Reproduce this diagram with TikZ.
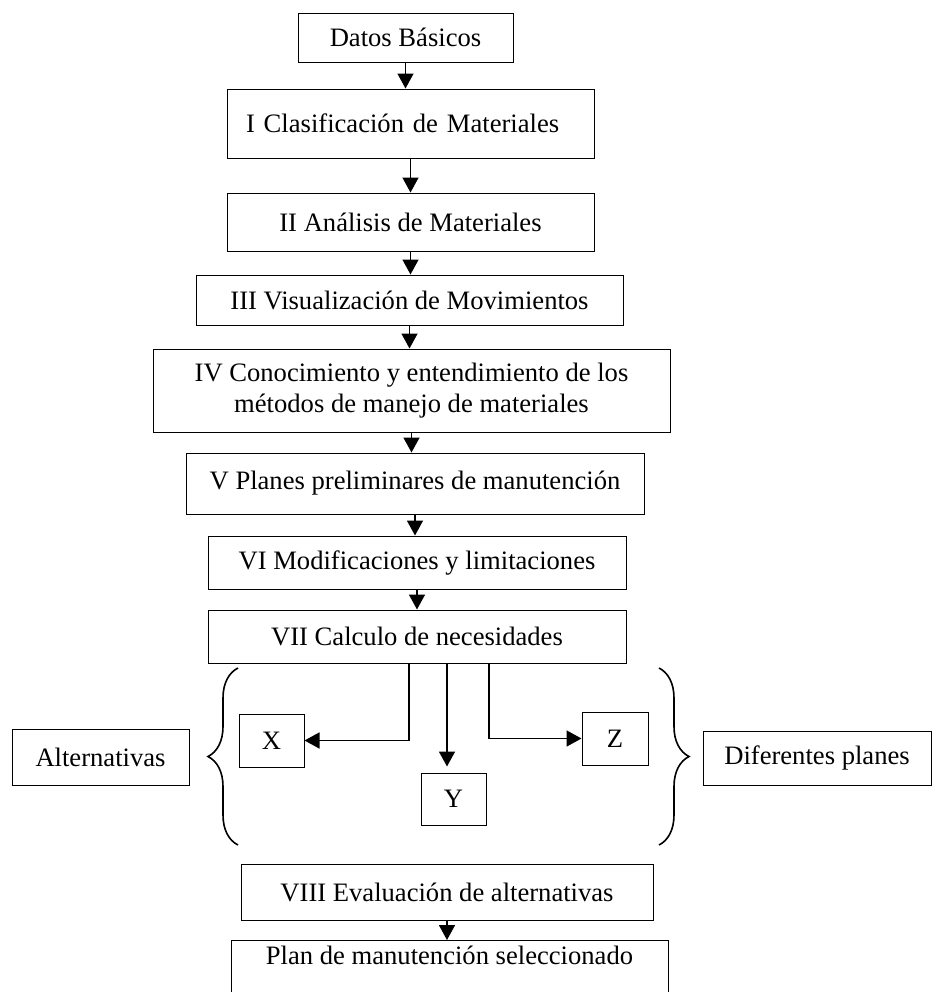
\documentclass[tikz,border=0pt]{standalone}
\usepackage{fontspec}
\setmainfont{Liberation Serif}
\usetikzlibrary{arrows.meta,decorations.pathreplacing}

\tikzset{
  box/.style={draw, line width=0.5pt, align=center, inner sep=2pt, font=\fontsize{13.3}{15.5}\selectfont},
  flecha/.style={-{Triangle[length=7.5pt,width=8pt]}, line width=0.8pt},
  llave/.style={decorate, decoration={brace, amplitude=15pt}, line width=0.8pt}
}

\begin{document}
\begin{tikzpicture}[x=0.5pt,y=0.5pt,yscale=-1,xscale=1]
\useasboundingbox (0,0) rectangle (932,992);
\clip (0,0) rectangle (932,992);

% Text Node
\node [box, minimum width=107.5pt, minimum height=24.5pt] (datos) at (405.5,37.5) {Datos Básicos};
% Text Node
\node [box, minimum width=183.5pt, minimum height=34.5pt, text width=164.5pt, inner xsep=9.5pt, align=left] (clasif) at (410.5,123.5) {I Clasificación de Materiales};
% Text Node
\node [box, minimum width=183.5pt, minimum height=29pt] (anal) at (410.5,222) {II Análisis de Materiales};
% Text Node
\node [box, minimum width=213.5pt, minimum height=25pt] (visual) at (409.5,300) {III Visualización de Movimientos};
% Text Node
\node [box, minimum width=258.5pt, minimum height=41.5pt] (metodos) at (411.5,390.5) {IV Conocimiento y entendimiento de los\\ métodos de manejo de materiales};
% Text Node
\node [box, minimum width=229pt, minimum height=30.5pt] (prelim) at (415,483.5) {V Planes preliminares de manutención};
% Text Node
\node [box, minimum width=209pt, minimum height=26.5pt] (modif) at (417,562.5) {VI Modificaciones y limitaciones};
% Text Node
\node [box, minimum width=209pt, minimum height=26.5pt] (calc) at (417,636.5) {VII Calculo de necesidades};
% Text Node
\node [box, minimum width=32.5pt, minimum height=26.5pt] (xbox) at (271.5,740.5) {X};
% Text Node
\node [box, minimum width=32.5pt, minimum height=26pt] (ybox) at (453.5,799) {Y};
% Text Node
\node [box, minimum width=33pt, minimum height=26.5pt] (zbox) at (615,738.5) {Z};
% Text Node
\node [box, minimum width=88.5pt, minimum height=28pt] (altern) at (100.5,757) {Alternativas};
% Text Node
\node [box, minimum width=114pt, minimum height=27pt] (difer) at (817,758) {Diferentes planes};
% Text Node
\node [box, minimum width=206pt, minimum height=28pt] (eval) at (447,892) {VIII Evaluación de alternativas};
% Text Node
\node [box, anchor=north, minimum width=218.5pt, text height=9pt, text depth=20pt, inner ysep=3pt] (selec) at (449.5,940) {Plan de manutención seleccionado};

%Straight Lines
\draw [flecha] (datos.south) -- (datos.south |- clasif.north);
\draw [flecha] (clasif.south) -- (clasif.south |- anal.north);
\draw [flecha] (anal.south) -- (anal.south |- visual.north);
\draw [flecha] (visual.south) -- (visual.south |- metodos.north);
\draw [flecha] (metodos.south) -- (metodos.south |- prelim.north);
\draw [flecha] (prelim.south) -- (prelim.south |- modif.north);
\draw [flecha] (modif.south) -- (modif.south |- calc.north);
%Straight Lines
\draw [flecha] ([xshift=-4pt]calc.south) |- (xbox.east);
\draw [flecha, shorten >=3pt] ([xshift=15pt]calc.south) -- ([xshift=15pt]calc.south |- ybox.north);
\draw [flecha] ([xshift=36pt]calc.south) |- (zbox.west);
%Straight Lines
\draw [flecha] (eval.south) -- (eval.south |- selec.north);

%Shape: Brace
\draw [llave] (238,845) -- (238,668);
\draw [llave] (659,668) -- (659,845);

\end{tikzpicture}
\end{document}
